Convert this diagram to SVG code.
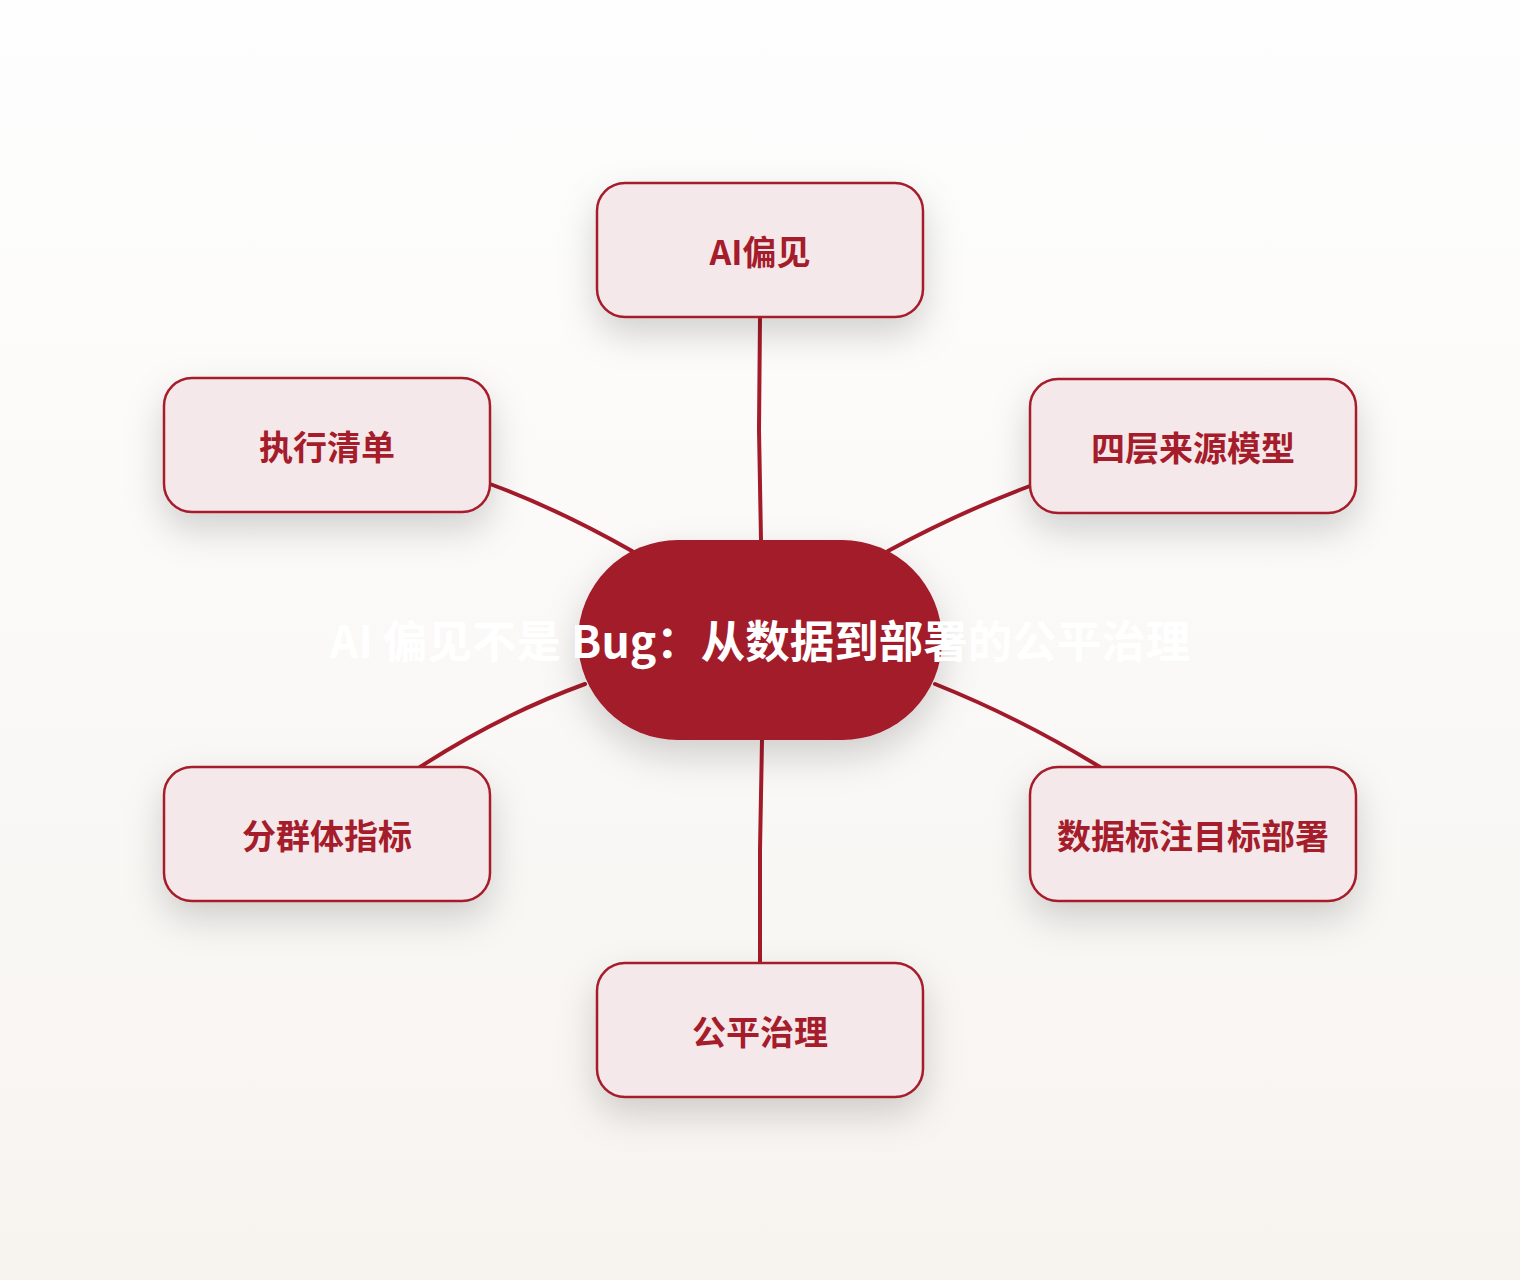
<svg xmlns="http://www.w3.org/2000/svg" width="1520" height="1280" viewBox="0 0 1520 1280">
  <defs>
    <linearGradient id="bg" x1="0" y1="0" x2="0" y2="1">
      <stop offset="0" stop-color="#fefefe"/>
      <stop offset="1" stop-color="#f7f4f0"/>
    </linearGradient>
    <filter id="shadow" x="-40%" y="-40%" width="180%" height="200%">
      <feDropShadow dx="0" dy="16" stdDeviation="18" flood-color="#000" flood-opacity="0.17"/>
    </filter>
  </defs>
  <style>
    .edge { fill: none; stroke: #a31a2a; stroke-width: 4; stroke-linecap: round; }
    .box { fill: #f5e8ea; stroke: #a51c2b; stroke-width: 2.5; filter: url(#shadow); }
    .label { font-family: "Noto Sans CJK SC", "Noto Sans", sans-serif; font-weight: 700; font-size: 34px; fill: #a51c2b; text-anchor: middle; }
    .core { fill: #a31a2a; filter: url(#shadow); }
    .title { font-family: "Noto Sans CJK SC", "Noto Sans", sans-serif; font-weight: 700; font-size: 44.5px; fill: #ffffff; text-anchor: middle; }
  </style>
  <rect width="1520" height="1280" fill="url(#bg)"/>

  <g id="connectors">
    <path class="edge" d="M760,317 L759,430 L761,540"/>
    <path class="edge" d="M490,484 Q560,510 632,551"/>
    <path class="edge" d="M1030,486 Q960,512 888,551"/>
    <path class="edge" d="M585,684 Q500,715 420,767"/>
    <path class="edge" d="M935,684 Q1020,718 1100,767"/>
    <path class="edge" d="M762,740 L760,850 L760,963"/>
  </g>

  <g id="node-top">
    <rect class="box" x="597" y="183" width="326" height="134" rx="28"/>
    <text class="label" x="760" y="265">AI偏见</text>
  </g>
  <g id="node-left-top">
    <rect class="box" x="164" y="378" width="326" height="134" rx="28"/>
    <text class="label" x="327" y="460">执行清单</text>
  </g>
  <g id="node-right-top">
    <rect class="box" x="1030" y="379" width="326" height="134" rx="28"/>
    <text class="label" x="1193" y="461">四层来源模型</text>
  </g>
  <g id="node-left-bottom">
    <rect class="box" x="164" y="767" width="326" height="134" rx="28"/>
    <text class="label" x="327" y="849">分群体指标</text>
  </g>
  <g id="node-right-bottom">
    <rect class="box" x="1030" y="767" width="326" height="134" rx="28"/>
    <text class="label" x="1193" y="849">数据标注目标部署</text>
  </g>
  <g id="node-bottom">
    <rect class="box" x="597" y="963" width="326" height="134" rx="28"/>
    <text class="label" x="760" y="1045">公平治理</text>
  </g>

  <g id="node-center">
    <rect class="core" x="578" y="540" width="364" height="200" rx="100"/>
    <text class="title" x="760" y="658">AI 偏见不是 Bug：从数据到部署的公平治理</text>
  </g>
</svg>
